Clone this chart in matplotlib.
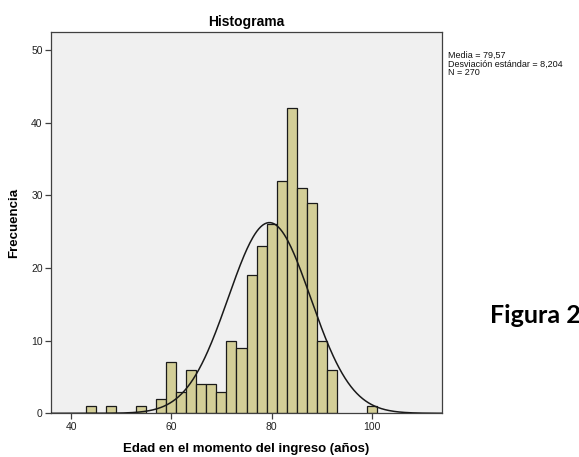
import numpy as np
import matplotlib.pyplot as plt

# Edad en el momento del ingreso: histograma con intervalos de 2 años
bin_left = [43, 47, 53, 57, 59, 61, 63, 65, 67, 69, 71, 73, 75, 77, 79,
            81, 83, 85, 87, 89, 91, 99]
counts = [1, 1, 1, 2, 7, 3, 6, 4, 4, 3, 10, 9, 19, 23, 26,
          32, 42, 31, 29, 10, 6, 1]
bin_width = 2

media = 79.57
desv = 8.204
n = 270

fig = plt.figure(figsize=(5.79, 4.57), dpi=100, facecolor='white')
ax = fig.add_axes([0.0881, 0.0956, 0.6753, 0.8344])
ax.set_facecolor('#f0f0f0')

ax.bar(bin_left, counts, width=bin_width, align='edge',
       color='#d3ce97', edgecolor='#1a1a1a', linewidth=0.9, zorder=2)

# curva normal con la media y desviacion de la muestra
xs = np.linspace(36, 114, 400)
ys = n * bin_width / (desv * np.sqrt(2 * np.pi)) * np.exp(-0.5 * ((xs - media) / desv) ** 2)
ax.plot(xs, ys, color='#1a1a1a', linewidth=1.1, zorder=3)

ax.set_xlim(36, 114)
ax.set_ylim(0, 52.5)
ax.set_xticks([40, 60, 80, 100])
ax.set_yticks([0, 10, 20, 30, 40, 50])

for s in ax.spines.values():
    s.set_color('#404040')
    s.set_linewidth(0.9)

ax.tick_params(direction='out', length=4, width=0.9, color='#404040',
               labelsize=7.5, labelcolor='#222222', pad=2)
for lab in ax.get_xticklabels() + ax.get_yticklabels():
    lab.set_family('Liberation Sans')

ax.set_title('Histograma', fontsize=10, fontweight='bold',
             family='Liberation Sans', pad=4)
ax.set_xlabel('Edad en el momento del ingreso (años)', fontsize=9.5,
              fontweight='bold', family='Liberation Sans', labelpad=8)
ax.set_ylabel('Frecuencia', fontsize=9.5, fontweight='bold',
              family='Liberation Sans', labelpad=8)

fig.text(448 / 579, 1 - 51 / 457,
         'Media = 79,57\nDesviación estándar = 8,204\nN = 270',
         fontsize=6.5, family='Liberation Sans', va='top', ha='left',
         linespacing=0.95, color='#111111')

fig.text(490 / 579, 1 - 323 / 457, 'Figura 2', fontsize=18,
         fontweight='bold', family='Lato', va='baseline', ha='left')

fig.savefig('out.png', dpi=100)
